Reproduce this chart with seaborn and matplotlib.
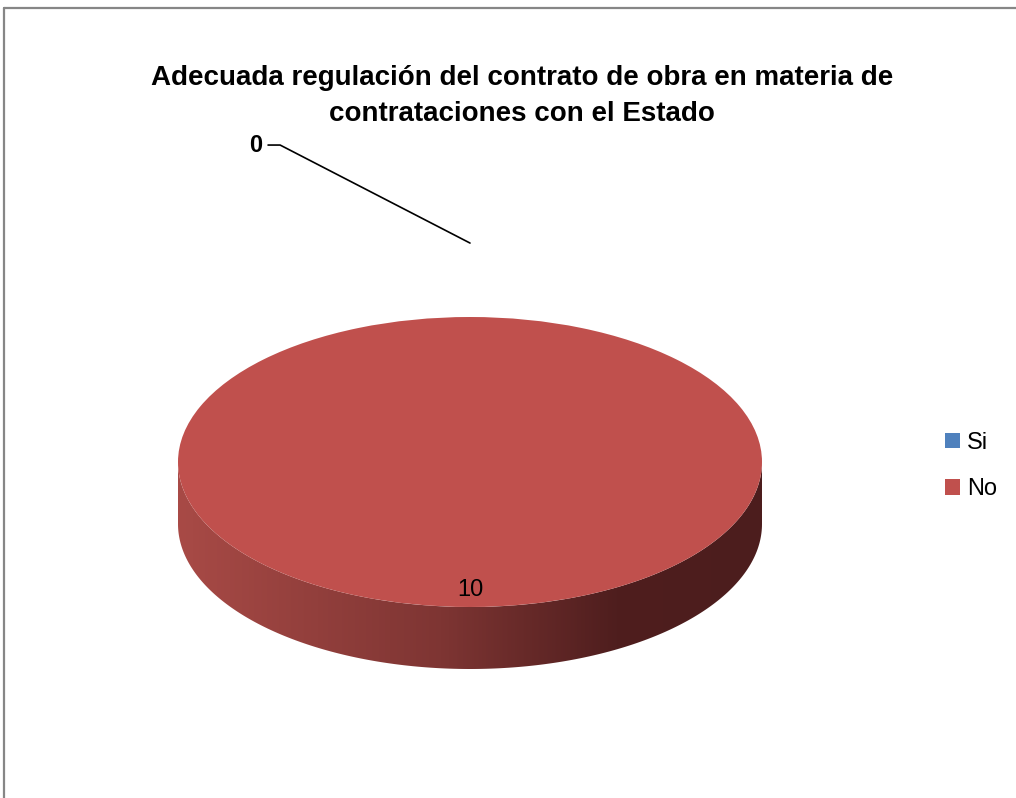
import numpy as np
import matplotlib
matplotlib.use("Agg")
import matplotlib.pyplot as plt
import seaborn as sns
from matplotlib.patches import Patch, PathPatch
from matplotlib.path import Path
from matplotlib.colors import LinearSegmentedColormap
from matplotlib.lines import Line2D

# ---- data ----
categories = ["Si", "No"]
values = [0, 10]
colors = ["#4F81BD", "#C0504D"]
title = "Adecuada regulación del contrato de obra en materia de\ncontrataciones con el Estado"

sns.set_theme(style="white")
plt.rcParams["font.family"] = ["Liberation Sans", "DejaVu Sans"]
plt.rcParams["text.color"] = "black"

W, H = 1016, 798
fig = plt.figure(figsize=(W / 100, H / 100), dpi=100)

# pie geometry (pixels)
cx, ytop, ybot, rx, depth = 470, 317, 607, 292, 62
ry = (ybot - ytop) / 2
d = depth / ry
ax = fig.add_axes([(cx - rx) / W, 1 - (ybot + depth) / H, 2 * rx / W, (ybot + depth - ytop) / H])

wedges, _ = ax.pie(values, colors=colors, startangle=90, counterclock=False,
                   radius=1, center=(0, 0), wedgeprops=dict(linewidth=0, zorder=3))
ax.set_aspect("auto")
ax.axis("off")

# 3D side with a horizontal shading gradient
t = np.linspace(np.pi, 2 * np.pi, 200)
lower = np.column_stack([np.cos(t), -d + np.sin(t)])
upper = np.column_stack([np.cos(t[::-1]), np.sin(t[::-1])])
verts = np.vstack([lower, upper, lower[:1]])
codes = [Path.MOVETO] + [Path.LINETO] * (len(verts) - 2) + [Path.CLOSEPOLY]
side = PathPatch(Path(verts, codes), transform=ax.transData, facecolor="none", edgecolor="none")
ax.add_patch(side)
cmap = LinearSegmentedColormap.from_list(
    "side", [(0.0, "#A84A46"), (0.45, "#7E3533"), (0.75, "#4F1E1E"), (1.0, "#4C1D1D")])
grad = np.linspace(0, 1, 400)[None, :]
im = ax.imshow(grad, extent=[-1, 1, -1 - d, 0], aspect="auto", cmap=cmap, zorder=1,
               interpolation="bilinear")
im.set_clip_path(side)
ax.set_xlim(-1, 1)
ax.set_ylim(-1 - d, 1)

# value labels
for w, v in zip(wedges, values):
    mid = np.deg2rad((w.theta1 + w.theta2) / 2)
    if v == 0:
        ax.annotate(str(v), xy=(np.cos(mid), np.sin(mid) * 1.51), xycoords="data",
                    xytext=(-208 * 0.72, 98 * 0.72), textcoords="offset points",
                    ha="right", va="center", fontsize=17, fontweight="bold", color="black",
                    arrowprops=dict(arrowstyle="-", color="black", lw=1.2, shrinkA=2, shrinkB=0,
                                    connectionstyle="angle,angleA=0,angleB=152.7,rad=0"),
                    zorder=5, annotation_clip=False)
    else:
        ax.text(np.cos(mid) * 0.88, np.sin(mid) * 0.88, str(v), ha="center", va="center",
                fontsize=17, color="black", zorder=5)

# title
fig.text(522 / W, 1 - 96 / H, title, ha="center", va="center", fontsize=20,
         fontweight="bold", linespacing=1.5, color="black")

# legend
handles = [Patch(facecolor=c, edgecolor="none") for c in colors]
fig.legend(handles, categories, loc="center left", bbox_to_anchor=(945 / W, 1 - 466 / H),
           frameon=False, fontsize=17, handlelength=0.64, handleheight=0.64,
           handletextpad=0.3, labelspacing=1.02, borderpad=0, borderaxespad=0,
           labelcolor="black")

# chart border
fig.add_artist(Line2D([4 / W, 1], [1 - 8 / H, 1 - 8 / H], transform=fig.transFigure,
                      color="#868686", lw=1.6))
fig.add_artist(Line2D([4 / W, 4 / W], [0, 1 - 8 / H], transform=fig.transFigure,
                      color="#868686", lw=1.6))

fig.savefig("out.png", dpi=100, facecolor="white")
